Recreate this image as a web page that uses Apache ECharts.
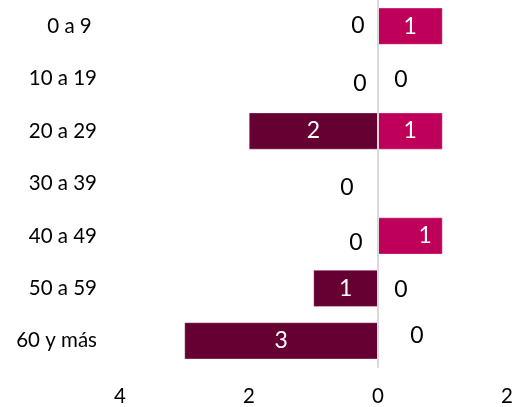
<!DOCTYPE html>
<html><head><meta charset="utf-8">
<script src="https://cdn.jsdelivr.net/npm/echarts@6/dist/echarts.min.js"></script>
<style>html,body{margin:0;padding:0;background:#fff}#c{width:523px;height:407px}</style>
</head><body><div id="c"></div>
<script>
var categories = ['0 a 9 ', '10 a 19', '20 a 29', '30 a 39', '40 a 49', '50 a 59', '60 y más'];
var leftValues = [0, 0, 2, 0, 0, 1, 3];
var rightValues = [1, 0, 1, 0, 1, 0, 0];
var axisTicks = [-4, -2, 0, 2];

// label placement tweaks (style only)
var leftLabelOffsets = [[-20, -1], [-18, 5], null, [-31, 4], [-22, 7], null, null];
var rightLabelOffsets = [null, [23, 1], null, 'hide', [15, 0], [23, 1], [39, -5]];

var FONT = 'Lato';
function buildData(vals, sign, offsets) {
  return vals.map(function (v, i) {
    var o = offsets[i];
    var lbl = { color: v === 0 ? '#000' : '#fff' };
    if (o === 'hide') lbl.show = false;
    else if (o) lbl.offset = o;
    return { value: sign * v, label: lbl };
  });
}

var chart = echarts.init(document.getElementById('c'));
chart.setOption({
  animation: false,
  grid: { left: 120, right: 16, top: -2.5, height: 371, containLabel: false },
  xAxis: {
    type: 'value', min: axisTicks[0], max: axisTicks[axisTicks.length - 1], interval: 2,
    axisLine: { show: false }, axisTick: { show: false }, splitLine: { show: false },
    axisLabel: { margin: 19, fontFamily: FONT, fontSize: 20.5, color: '#000',
      formatter: function (v) { return Math.abs(v); } }
  },
  yAxis: {
    type: 'category', inverse: true, data: categories, z: 5,
    axisLine: { show: true, onZero: true, lineStyle: { color: '#d9d9d9', width: 2 } },
    axisTick: { show: false },
    axisLabel: { margin: 23, fontFamily: FONT, fontSize: 20.5, color: '#000' }
  },
  series: [
    {
      type: 'bar', barWidth: '70%', barGap: '-100%',
      itemStyle: { color: '#660033', borderColor: 'rgba(255,255,255,0.6)', borderWidth: 0.5 },
      label: { show: true, position: 'inside', fontFamily: FONT, fontSize: 23,
        formatter: function (p) { return Math.abs(p.value); } },
      data: buildData(leftValues, -1, leftLabelOffsets)
    },
    {
      type: 'bar', barWidth: '70%', barGap: '-100%',
      itemStyle: { color: '#bf005a', borderColor: 'rgba(255,255,255,0.6)', borderWidth: 0.5 },
      label: { show: true, position: 'inside', fontFamily: FONT, fontSize: 23,
        formatter: function (p) { return Math.abs(p.value); } },
      data: buildData(rightValues, 1, rightLabelOffsets)
    }
  ]
});
</script></body></html>
